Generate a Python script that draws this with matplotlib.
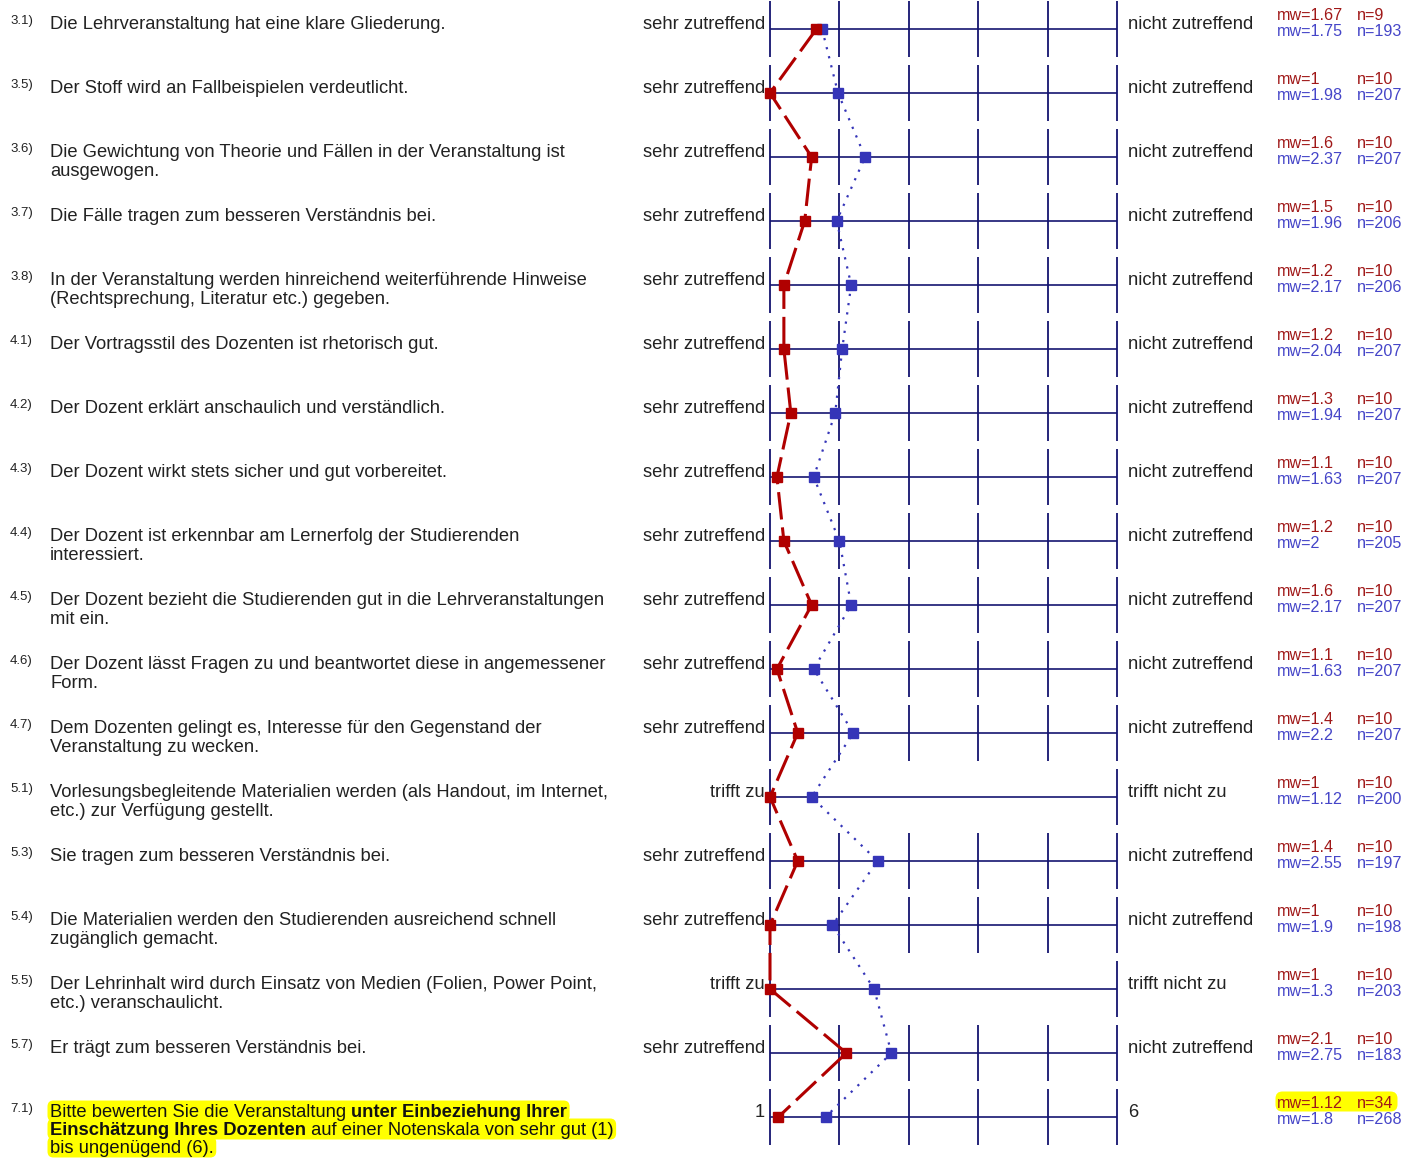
import numpy as np
import matplotlib.pyplot as plt
from matplotlib.patches import FancyBboxPatch

plt.rcParams['font.family'] = ['Liberation Sans', 'DejaVu Sans']

W, H = 1407, 1158
ROW0, ROWSTEP = 29, 64

# %% data
nums = ['3.1)', '3.5)', '3.6)', '3.7)', '3.8)', '4.1)', '4.2)', '4.3)', '4.4)',
        '4.5)', '4.6)', '4.7)', '5.1)', '5.3)', '5.4)', '5.5)', '5.7)', '7.1)']
questions = [
    'Die Lehrveranstaltung hat eine klare Gliederung.',
    'Der Stoff wird an Fallbeispielen verdeutlicht.',
    'Die Gewichtung von Theorie und Fällen in der Veranstaltung ist\nausgewogen.',
    'Die Fälle tragen zum besseren Verständnis bei.',
    'In der Veranstaltung werden hinreichend weiterführende Hinweise\n(Rechtsprechung, Literatur etc.) gegeben.',
    'Der Vortragsstil des Dozenten ist rhetorisch gut.',
    'Der Dozent erklärt anschaulich und verständlich.',
    'Der Dozent wirkt stets sicher und gut vorbereitet.',
    'Der Dozent ist erkennbar am Lernerfolg der Studierenden\ninteressiert.',
    'Der Dozent bezieht die Studierenden gut in die Lehrveranstaltungen\nmit ein.',
    'Der Dozent lässt Fragen zu und beantwortet diese in angemessener\nForm.',
    'Dem Dozenten gelingt es, Interesse für den Gegenstand der\nVeranstaltung zu wecken.',
    'Vorlesungsbegleitende Materialien werden (als Handout, im Internet,\netc.) zur Verfügung gestellt.',
    'Sie tragen zum besseren Verständnis bei.',
    'Die Materialien werden den Studierenden ausreichend schnell\nzugänglich gemacht.',
    'Der Lehrinhalt wird durch Einsatz von Medien (Folien, Power Point,\netc.) veranschaulicht.',
    'Er trägt zum besseren Verständnis bei.',
    None,
]
# last question mixes bold and normal parts
last_question = [
    [('Bitte bewerten Sie die Veranstaltung ', 'normal'), ('unter Einbeziehung Ihrer', 'bold')],
    [('Einschätzung Ihres Dozenten', 'bold'), (' auf einer Notenskala von sehr gut (1)', 'normal')],
    [('bis ungenügend (6).', 'normal')],
]
left_labels = ['sehr zutreffend'] * 12 + ['trifft zu', 'sehr zutreffend', 'sehr zutreffend',
                                          'trifft zu', 'sehr zutreffend', '1']
right_labels = ['nicht zutreffend'] * 12 + ['trifft nicht zu', 'nicht zutreffend', 'nicht zutreffend',
                                            'trifft nicht zu', 'nicht zutreffend', '6']
scale_points = [6] * 12 + [2, 6, 6, 2, 6, 6]

mw_course = [1.67, 1, 1.6, 1.5, 1.2, 1.2, 1.3, 1.1, 1.2, 1.6, 1.1, 1.4, 1, 1.4, 1, 1, 2.1, 1.12]
n_course = [9, 10, 10, 10, 10, 10, 10, 10, 10, 10, 10, 10, 10, 10, 10, 10, 10, 34]
mw_all = [1.75, 1.98, 2.37, 1.96, 2.17, 2.04, 1.94, 1.63, 2, 2.17, 1.63, 2.2, 1.12, 2.55, 1.9, 1.3, 2.75, 1.8]
n_all = [193, 207, 207, 206, 206, 207, 207, 207, 205, 207, 207, 207, 200, 197, 198, 203, 183, 268]

RED = '#b00000'
RED_TXT = '#a01818'
BLUE = '#3535b8'
BLUE_TXT = '#4545c8'
NAVY = '#141470'
YELLOW = '#ffff00'
FS = 13.2

# %%
fig = plt.figure(figsize=(W / 100, H / 100), dpi=100)
ax_txt = fig.add_axes([0, 0, 1, 1])
ax_txt.set_xlim(0, W)
ax_txt.set_ylim(H, 0)
ax_txt.axis('off')

ax = fig.add_axes([770 / W, 0, 347 / W, 1])
ax.set_xlim(1, 6)
ax.set_ylim((H - ROW0) / ROWSTEP, -ROW0 / ROWSTEP)
ax.axis('off')

rows = np.arange(len(nums))
row_y = ROW0 + ROWSTEP * rows


def to_scale(v, points):
    return 1 + (np.asarray(v, dtype=float) - 1) * 5 / (points - 1)


pts = np.array(scale_points)
x_course = to_scale(mw_course, pts)
x_all = to_scale(mw_all, pts)

# grid
for i, p in enumerate(scale_points):
    ax.hlines(i, 1, 6, color=NAVY, lw=1.4, alpha=0.85, clip_on=False, zorder=1)
    ticks = np.arange(1, 7) if p == 6 else np.array([1, 6])
    ax.vlines(ticks, i - 0.44, i + 0.44, color=NAVY, lw=1.3, clip_on=False, zorder=1)

ax.plot(x_all, rows, color=BLUE, lw=1.6, ls=(0, (1.0, 3.2)), clip_on=False, zorder=2)
ax.plot(x_course, rows, color=RED, lw=2.2, ls=(0, (9, 2.6)), clip_on=False, zorder=3)
ax.plot(x_all, rows, ls='none', marker='s', ms=6.8, color=BLUE, clip_on=False, zorder=4)
ax.plot(x_course, rows, ls='none', marker='s', ms=6.8, color=RED, clip_on=False, zorder=5)

# texts
for i in rows:
    y = row_y[i]
    ax_txt.text(10, y - 5, nums[i], fontsize=9.5, color='#222222', va='baseline')
    if questions[i] is not None:
        for k, line in enumerate(questions[i].split('\n')):
            ax_txt.text(50, y + 19 * k, line, fontsize=FS, color='#222222', va='baseline')
    ax_txt.text(765, y, left_labels[i], fontsize=FS, color='#222222', ha='right', va='baseline')
    ax_txt.text(1128, y, right_labels[i], fontsize=FS, color='#222222', ha='left', va='baseline')
    ax_txt.text(1277, y - 9, 'mw=%g' % mw_course[i], fontsize=11.6, color=RED_TXT, va='baseline')
    ax_txt.text(1357, y - 9, 'n=%d' % n_course[i], fontsize=11.6, color=RED_TXT, va='baseline')
    ax_txt.text(1277, y + 7, 'mw=%g' % mw_all[i], fontsize=11.6, color=BLUE_TXT, va='baseline')
    ax_txt.text(1357, y + 7, 'n=%d' % n_all[i], fontsize=11.6, color=BLUE_TXT, va='baseline')

# last question with highlighted, partly bold text
fig.canvas.draw()
renderer = fig.canvas.get_renderer()
inv = ax_txt.transData.inverted()
y_last = row_y[-1]
for k, line in enumerate(last_question):
    x = 50
    yb = y_last + 18 * k
    for part, weight in line:
        t = ax_txt.text(x, yb, part, fontsize=FS, fontweight=weight, color='#111111',
                        va='baseline', zorder=3)
        bb = t.get_window_extent(renderer)
        x0, _ = inv.transform((bb.x0, 0))
        x1, _ = inv.transform((bb.x1, 0))
        x += x1 - x0
    ax_txt.add_patch(FancyBboxPatch((50, yb - 14), x - 50, 16,
                                    boxstyle='round,pad=2.5,rounding_size=6',
                                    fc=YELLOW, ec='none', zorder=1))

# highlight course values of the last row
ax_txt.add_patch(FancyBboxPatch((1278, y_last - 23), 117, 15,
                                boxstyle='round,pad=2.5,rounding_size=7',
                                fc=YELLOW, ec='none', zorder=0.5))

fig.savefig('out.png', dpi=100)
